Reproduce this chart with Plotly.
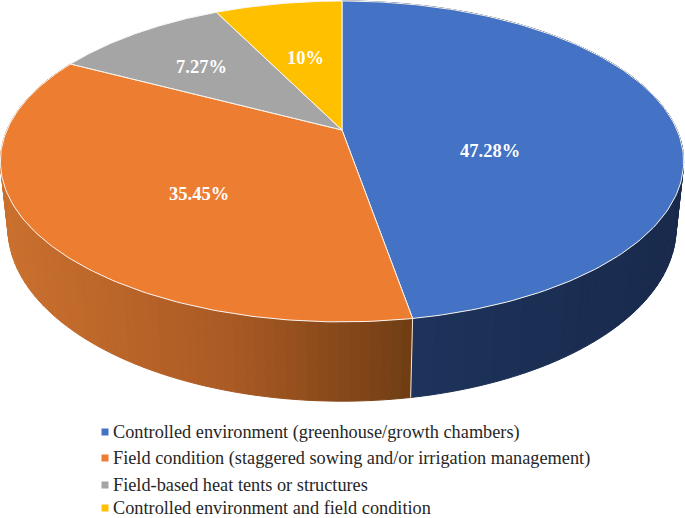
import numpy as np
import plotly.graph_objects as go

categories = [
    "Controlled environment (greenhouse/growth chambers)",
    "Field condition (staggered sowing and/or irrigation management)",
    "Field-based heat tents or structures",
    "Controlled environment and field condition",
]
slice_sizes = [47.28, 35.45, 10.0, 7.27]          # swept angles as drawn
printed_labels = ["47.28%", "35.45%", "7.27%", "10%"]  # printed text, as in the source
colors = ["#4472C4", "#ED7D31", "#A5A5A5", "#FFC000"]
label_xy = [(490, 151), (199, 194), (201, 67), (305, 58)]
legend_y = [432, 458, 485, 508]

# wall shading: (screen x, colour) stops per slice
wall_stops = {
    0: [(410, (30, 52, 92)), (685, (25, 42, 76))],
    1: [(0, (203, 113, 47)), (230, (170, 90, 36)), (412, (112, 62, 20))],
}

# projective view of the pie disc, top and bottom planes
CX = 342
TOP = dict(a=335.0, b=154.3, y0=130.0, k=0.196)
BOT = dict(a=328.0, b=167.0, y0=195.0, k=0.19)


def project(theta, r, p):
    u, v = r * np.sin(theta), -r * np.cos(theta)
    w = 1 - p["k"] * v
    return CX + p["a"] * u / w, p["y0"] + p["b"] * v / w


def wall_color(i, x):
    xs = [s[0] for s in wall_stops[i]]
    cs = np.array([s[1] for s in wall_stops[i]], float)
    return "rgb(%d,%d,%d)" % tuple(np.interp(x, xs, cs[:, j]) for j in range(3))


fig = go.Figure()
edges = np.cumsum([0] + slice_sizes) / sum(slice_sizes) * 2 * np.pi

# side walls
for i in wall_stops:
    t0, t1 = edges[i], edges[i + 1]
    grid = np.linspace(t0, t1, int((t1 - t0) / np.radians(1.5)) + 2)
    for a, b in zip(grid[:-1], grid[1:]):
        xa, ya = project(a, 1, TOP)
        xb, yb = project(b, 1, TOP)
        xc, yc = project(b, 1, BOT)
        xd, yd = project(a, 1, BOT)
        col = wall_color(i, (xa + xb) / 2)
        fig.add_trace(go.Scatter(
            x=[xa, xb, xc, xd, xa], y=[ya, yb, yc, yd, ya], mode="lines",
            fill="toself", fillcolor=col, line=dict(color=col, width=1),
            hoverinfo="skip", showlegend=False))

# divider on the wall between first two slices
dx = [project(edges[1], 1, TOP)[0], project(edges[1], 1, BOT)[0]]
dy = [project(edges[1], 1, TOP)[1], project(edges[1], 1, BOT)[1]]
fig.add_trace(go.Scatter(x=dx, y=dy, mode="lines", line=dict(color="#F3E6D8", width=1),
                         hoverinfo="skip", showlegend=False))

# top face
for i, name in enumerate(categories):
    th = np.linspace(edges[i], edges[i + 1], 160)
    x, y = project(th, 1, TOP)
    x0, y0 = project(0.0, 0, TOP)
    fig.add_trace(go.Scatter(
        x=np.r_[x0, x, x0], y=np.r_[y0, y, y0], mode="lines", fill="toself",
        fillcolor=colors[i], line=dict(color="#FAF6F0", width=1),
        name=name, showlegend=False, hoverinfo="name"))

# legend swatches
for i, name in enumerate(categories):
    fig.add_trace(go.Scatter(
        x=[105], y=[legend_y[i]], mode="markers",
        marker=dict(symbol="square", size=7, color=colors[i]),
        name=name, showlegend=False, hoverinfo="name"))

ann = []
for txt, (x, y) in zip(printed_labels, label_xy):
    ann.append(dict(x=x, y=y, text=f"<b>{txt}</b>", showarrow=False, xanchor="center", yanchor="middle",
                    font=dict(family="Liberation Serif", size=18.5, color="white")))
for name, y in zip(categories, legend_y):
    ann.append(dict(x=111, y=y, text=name, showarrow=False, xanchor="left", yanchor="middle",
                    font=dict(family="Liberation Serif", size=18.3, color="#262626")))

fig.update_layout(
    width=685, height=518, margin=dict(l=0, r=0, t=0, b=0),
    paper_bgcolor="white", plot_bgcolor="white", annotations=ann,
    xaxis=dict(range=[0, 685], visible=False, fixedrange=True),
    yaxis=dict(range=[518, 0], visible=False, fixedrange=True),
    showlegend=False,
)
fig.write_html("out.html", config={"displayModeBar": False},
               post_script="document.body.style.margin='0';document.body.style.overflow='hidden';")
